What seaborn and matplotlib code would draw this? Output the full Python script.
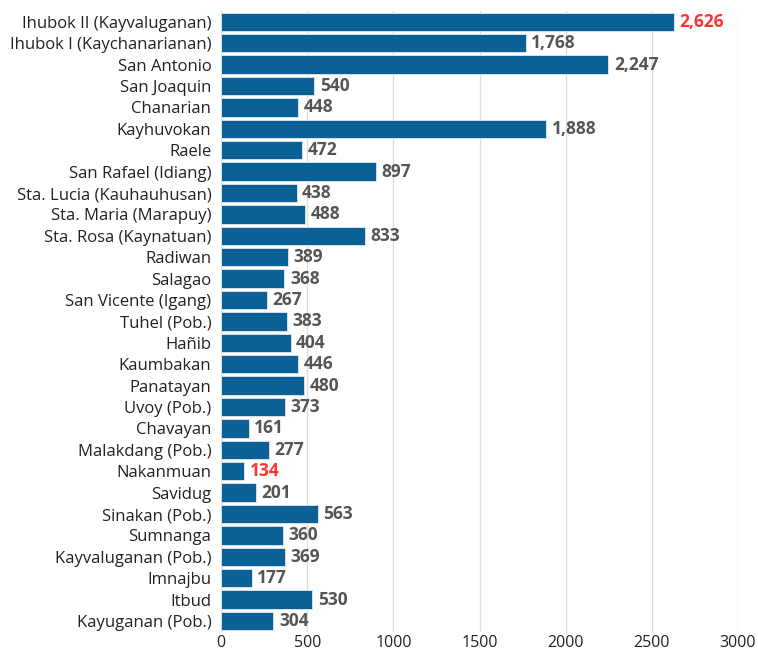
import pandas as pd
import numpy as np
import seaborn as sns
import matplotlib.pyplot as plt

barangays = [
    "Ihubok II (Kayvaluganan)", "Ihubok I (Kaychanarianan)", "San Antonio",
    "San Joaquin", "Chanarian", "Kayhuvokan", "Raele", "San Rafael (Idiang)",
    "Sta. Lucia (Kauhauhusan)", "Sta. Maria (Marapuy)", "Sta. Rosa (Kaynatuan)",
    "Radiwan", "Salagao", "San Vicente (Igang)", "Tuhel (Pob.)", "Hañib",
    "Kaumbakan", "Panatayan", "Uvoy (Pob.)", "Chavayan", "Malakdang (Pob.)",
    "Nakanmuan", "Savidug", "Sinakan (Pob.)", "Sumnanga", "Kayvaluganan (Pob.)",
    "Imnajbu", "Itbud", "Kayuganan (Pob.)",
]
population = [
    2626, 1768, 2247, 540, 448, 1888, 472, 897, 438, 488, 833, 389, 368, 267,
    383, 404, 446, 480, 373, 161, 277, 134, 201, 563, 360, 369, 177, 530, 304,
]

BAR = "#0b6195"
LABEL = "#555555"
HIGHLIGHT = "#ff3333"

plt.rcParams['font.family'] = ['Open Sans', 'DejaVu Sans']

df = pd.DataFrame({"barangay": barangays, "population": population})

fig = plt.figure(figsize=(7.58, 6.52), dpi=100)
ax = fig.add_axes([0.2916, 0.031, 0.682, 0.952])
sns.barplot(data=df, x="population", y="barangay", color=BAR, saturation=1,
            width=0.86, edgecolor="#dfe9f1", linewidth=0.6, ax=ax)

top = max(population)
low = min(population)
for bar, v in zip(ax.patches, population):
    c = HIGHLIGHT if v in (top, low) else LABEL
    ax.annotate(f"{v:,}", (bar.get_width(), bar.get_y() + bar.get_height() / 2),
                xytext=(4, 0), textcoords="offset points", va="center",
                ha="left", fontsize=12.5, fontweight="bold", color=c)

ax.set_xlim(0, 3000)
ax.set_xticks(range(0, 3001, 500))
ax.grid(axis="x", color="#dddddd", linewidth=0.9)
ax.set_axisbelow(True)
for s in ax.spines.values():
    s.set_visible(False)
ax.tick_params(length=0, colors="#222222")
ax.tick_params(axis="x", pad=2, labelsize=11.5)
ax.tick_params(axis="y", pad=7, labelsize=12)
ax.set_xlabel("")
ax.set_ylabel("")

fig.savefig("out.png", dpi=100)
